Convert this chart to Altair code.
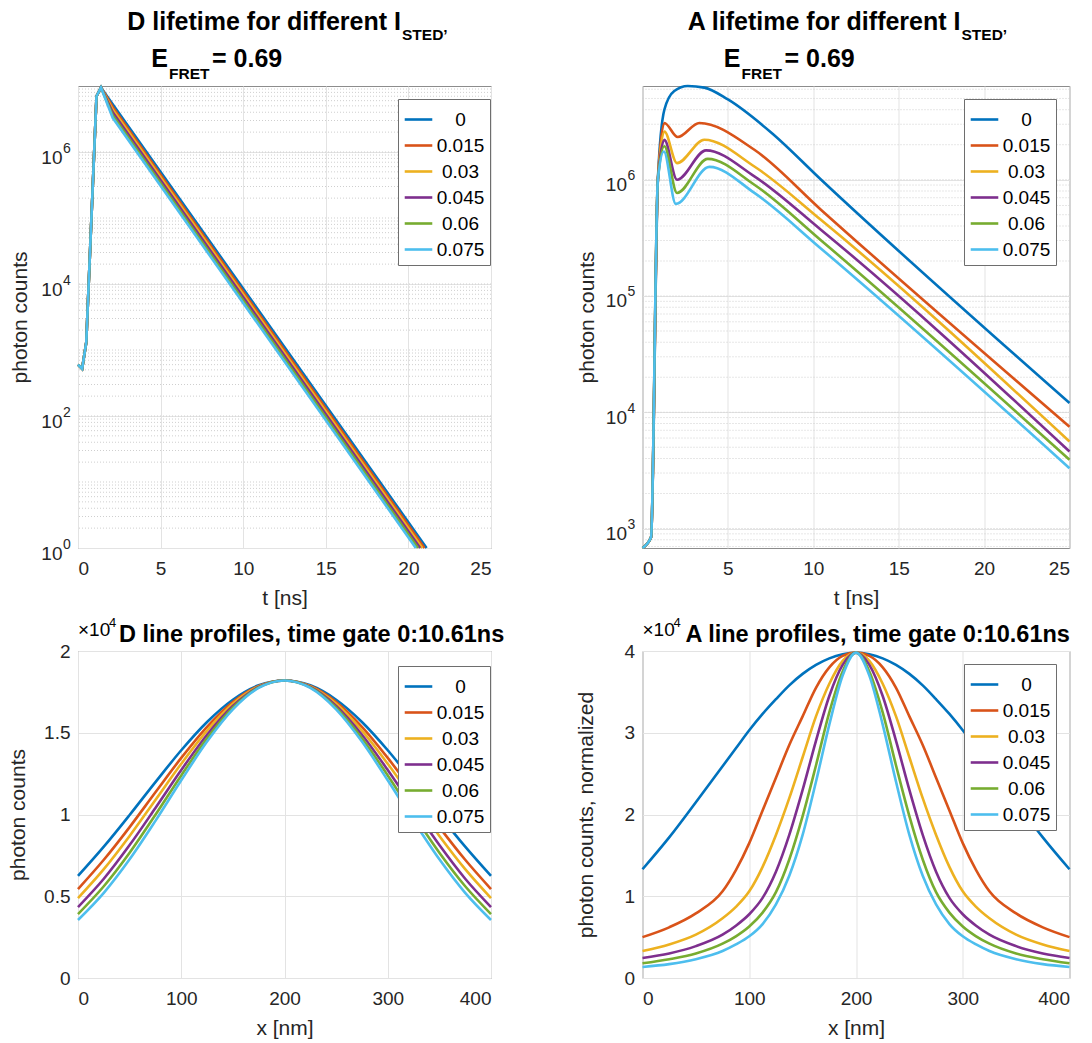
import altair as alt
import pandas as pd

FONT = "Liberation Sans"
SERIES = ["0", "0.015", "0.03", "0.045", "0.06", "0.075"]
COLORS = ["#0072BD", "#D95319", "#EDB120", "#7E2F8E", "#77AC30", "#4DBEEE"]

# ---------------- D lifetime (top-left), photon counts vs t [ns] ----------------
D_RISE_T = [0.0, 0.25, 0.5, 1.12, 1.39]
D_RISE_V = [600, 520, 1300, 7.0e6, 9.5e6]
D_KNEE_T = 2.1
D_KNEE_V = [5.3e6, 4.8e6, 4.4e6, 4.0e6, 3.6e6, 3.3e6]
D_END_T = [21.1, 20.97, 20.84, 20.71, 20.58, 20.45]
D_END_V = 1.0

# ---------------- A lifetime (top-right) ----------------
A_RISE_T = [0.0, 0.5, 0.9]
A_RISE_V = [680, 840, 1.0e6]
A_T = {
    "0":     [1.28, 1.86, 2.65, 3.62, 5.0, 7.53, 10.46, 25.0],
    "0.015": [1.28, 2.06, 3.33, 6.55, 10.46, 25.0],
    "0.03":  [1.28, 2.02, 3.62, 6.55, 10.46, 25.0],
    "0.045": [1.28, 2.02, 3.72, 6.55, 10.46, 25.0],
    "0.06":  [1.28, 2.02, 3.82, 6.55, 10.46, 25.0],
    "0.075": [1.25, 1.95, 3.92, 6.55, 10.46, 25.0],
}
A_V = {
    "0":     [4.0e6, 5.8e6, 6.4e6, 6.2e6, 4.9e6, 2.55e6, 1.0e6, 1.2e4],
    "0.015": [3.08e6, 2.33e6, 3.08e6, 1.81e6, 5.5e5, 7.5e3],
    "0.03":  [2.6e6, 1.39e6, 2.21e6, 1.3e6, 4.5e5, 5.6e3],
    "0.045": [2.2e6, 1.0e6, 1.79e6, 1.07e6, 3.7e5, 4.6e3],
    "0.06":  [1.94e6, 7.7e5, 1.51e6, 9.05e5, 3.0e5, 3.9e3],
    "0.075": [1.75e6, 6.2e5, 1.29e6, 7.7e5, 2.55e5, 3.3e3],
}

# ---------------- D line profiles (bottom-left), units of 1e4 counts ----------------
X_D = [0, 25, 50, 75, 100, 125, 150, 175, 200, 225, 250, 275, 300, 325, 350, 375, 400]
D_PROF = {
    "0":     [0.624, 0.803, 0.997, 1.198, 1.393, 1.566, 1.702, 1.790, 1.820, 1.790, 1.702, 1.566, 1.393, 1.198, 0.997, 0.803, 0.624],
    "0.015": [0.544, 0.723, 0.923, 1.136, 1.346, 1.536, 1.688, 1.786, 1.820, 1.786, 1.688, 1.536, 1.346, 1.136, 0.923, 0.723, 0.544],
    "0.03":  [0.489, 0.666, 0.869, 1.089, 1.310, 1.513, 1.677, 1.783, 1.820, 1.783, 1.677, 1.513, 1.310, 1.089, 0.869, 0.666, 0.489],
    "0.045": [0.434, 0.607, 0.813, 1.040, 1.272, 1.488, 1.664, 1.780, 1.820, 1.780, 1.664, 1.488, 1.272, 1.040, 0.813, 0.607, 0.434],
    "0.06":  [0.391, 0.561, 0.766, 0.998, 1.239, 1.466, 1.653, 1.777, 1.820, 1.777, 1.653, 1.466, 1.239, 0.998, 0.766, 0.561, 0.391],
    "0.075": [0.355, 0.521, 0.726, 0.961, 1.209, 1.446, 1.643, 1.774, 1.820, 1.774, 1.643, 1.446, 1.209, 0.961, 0.726, 0.521, 0.355],
}

# ---------------- A line profiles (bottom-right), units of 1e4 counts ----------------
X_A = [0, 25, 50, 75, 87.5, 100, 112.5, 125, 137.5, 150, 162.5, 175, 187.5, 200,
       212.5, 225, 237.5, 250, 262.5, 275, 287.5, 300, 312.5, 325, 350, 375, 400]
A_PROF = {
    "0":     [1.33, 1.72, 2.15, 2.59, 2.81, 3.03, 3.23, 3.41, 3.58, 3.72, 3.83, 3.91, 3.96, 3.98,
              3.96, 3.91, 3.83, 3.72, 3.58, 3.41, 3.23, 3.03, 2.81, 2.59, 2.15, 1.72, 1.33],
    "0.015": [0.50, 0.62, 0.79, 1.06, 1.32, 1.65, 2.05, 2.45, 2.85, 3.20, 3.55, 3.80, 3.94, 3.98,
              3.94, 3.80, 3.55, 3.20, 2.85, 2.45, 2.05, 1.65, 1.32, 1.06, 0.79, 0.62, 0.50],
    "0.03":  [0.33, 0.41, 0.53, 0.73, 0.87, 1.06, 1.36, 1.75, 2.20, 2.70, 3.20, 3.60, 3.88, 3.98,
              3.88, 3.60, 3.20, 2.70, 2.20, 1.75, 1.36, 1.06, 0.87, 0.73, 0.53, 0.41, 0.33],
    "0.045": [0.245, 0.30, 0.39, 0.53, 0.64, 0.78, 0.98, 1.30, 1.75, 2.30, 2.90, 3.45, 3.83, 3.98,
              3.83, 3.45, 2.90, 2.30, 1.75, 1.30, 0.98, 0.78, 0.64, 0.53, 0.39, 0.30, 0.245],
    "0.06":  [0.18, 0.23, 0.30, 0.42, 0.51, 0.63, 0.80, 1.05, 1.45, 1.98, 2.60, 3.25, 3.75, 3.98,
              3.75, 3.25, 2.60, 1.98, 1.45, 1.05, 0.80, 0.63, 0.51, 0.42, 0.30, 0.23, 0.18],
    "0.075": [0.135, 0.17, 0.23, 0.33, 0.41, 0.51, 0.66, 0.90, 1.25, 1.75, 2.40, 3.10, 3.70, 3.98,
              3.70, 3.10, 2.40, 1.75, 1.25, 0.90, 0.66, 0.51, 0.41, 0.33, 0.23, 0.17, 0.135],
}

# ---------------- build tables ----------------
rows = []
for i, s in enumerate(SERIES):
    for t, v in zip(D_RISE_T + [D_KNEE_T, D_END_T[i]], D_RISE_V + [D_KNEE_V[i], D_END_V]):
        rows.append({"series": s, "k": i, "x": t, "v": v})
df_dl = pd.DataFrame(rows)

rows = []
for i, s in enumerate(SERIES):
    for t, v in zip(A_RISE_T + A_T[s], A_RISE_V + A_V[s]):
        rows.append({"series": s, "k": i, "x": t, "v": v})
df_al = pd.DataFrame(rows)

df_dp = pd.DataFrame([{"series": s, "k": i, "x": x, "v": v}
                      for i, s in enumerate(SERIES) for x, v in zip(X_D, D_PROF[s])])
df_ap = pd.DataFrame([{"series": s, "k": i, "x": x, "v": v}
                      for i, s in enumerate(SERIES) for x, v in zip(X_A, A_PROF[s])])

ONE = pd.DataFrame({"a": [0]})
EXP_LABEL = "'' + round(log(datum.value) / LN10)"


def minor_values(lo, hi):
    out = []
    for e in range(-1, 9):
        for m in range(1, 10):
            val = m * 10 ** e
            if lo < val < hi:
                out.append(val)
    return out


def txt(s, x, y, size, align="left", weight="bold"):
    return alt.Chart(ONE).mark_text(
        text=s, align=align, baseline="alphabetic", fontSize=size,
        fontWeight=weight, font=FONT, color="#000000"
    ).encode(x=alt.value(x), y=alt.value(y))


def legend(lx, ly):
    return alt.Legend(
        title=None, orient="none", legendX=lx, legendY=ly,
        fillColor="white", strokeColor="#6e6e6e", padding=5, cornerRadius=0,
        symbolType="stroke", symbolSize=760, symbolStrokeWidth=2.6,
        labelFontSize=19, labelFont=FONT, labelColor="#000000",
        labelAlign="center", labelOffset=26.5, rowPadding=0,
    )


def panel(df, w, h, xdom, xvals, xtitle, ydom, yvals, ytitle, ytitleX, log, interp,
          lx, ly, texts):
    xscale = alt.Scale(domain=xdom, nice=False)
    xaxis = alt.Axis(values=xvals, title=xtitle, grid=True, labelPadding=11,
                     titleY=56, titleBaseline="alphabetic", labelExpr="'' + datum.value")
    if log:
        yscale = alt.Scale(type="log", domain=ydom, nice=False)
        yaxis = alt.Axis(orient="left", values=yvals, labelExpr="'10'", title=ytitle,
                         grid=True, titleX=ytitleX, titleY=h / 2, titleAngle=270,
                         titleBaseline="alphabetic", titleAlign="center",
                         labelPadding=16, labelOffset=5)
        exp_axis = alt.Axis(orient="left", values=yvals, labelExpr=EXP_LABEL, title=None,
                            grid=False, labelAlign="left", labelPadding=15.5,
                            labelFontSize=14, labelOffset=-4)
    else:
        yscale = alt.Scale(domain=ydom, nice=False)
        yaxis = alt.Axis(values=yvals, labelExpr="'' + datum.value", title=ytitle, grid=True,
                         titleX=ytitleX, titleY=h / 2, titleAngle=270,
                         titleBaseline="alphabetic", titleAlign="center", labelPadding=8)
    lines = alt.Chart(df).mark_line(strokeWidth=2.6, interpolate=interp).encode(
        x=alt.X("x:Q", scale=xscale, axis=xaxis),
        y=alt.Y("v:Q", scale=yscale, axis=yaxis),
        color=alt.Color("series:N", scale=alt.Scale(domain=SERIES, range=COLORS),
                        legend=legend(lx, ly)),
        order=alt.Order("k:Q"),
    )
    layers = []
    if log:
        mdf = pd.DataFrame({"v": minor_values(ydom[0], ydom[1])})
        layers.append(alt.Chart(mdf).mark_rule(color="#cfcfcf", strokeWidth=1,
                                               strokeDash=[1, 2]).encode(
            y=alt.Y("v:Q", scale=yscale, axis=exp_axis)))
    layers.append(lines)
    layers.extend(texts)
    out = alt.layer(*layers).properties(width=w, height=h)
    if log:
        out = out.resolve_axis(y="independent")
    return out


WL, WR, HT, HB = 413, 427, 462, 327

anchor = alt.Chart(ONE).mark_rule(opacity=0, strokeWidth=1).encode(
    x=alt.value(-76.8), y=alt.value(-85), y2=alt.value(-84))

tl = panel(df_dl, WL, HT, [0, 25], [0, 5, 10, 15, 20, 25], "t [ns]",
           [1, 1e7], [1, 100, 1e4, 1e6], "photon counts", -52, True, "linear",
           320, 13,
           [txt("D lifetime for different I", 323, -56, 25, align="right"),
            txt("STED’", 324, -46, 15.5),
            txt("E", 90, -19, 25, align="right"),
            txt("FRET", 91, -7, 15.5),
            txt("= 0.69", 134, -19, 25),
            anchor])

a_min = min(min(A_RISE_V), min(min(v) for v in A_V.values()))
a_max = max(max(v) for v in A_V.values())
tr = panel(df_al, WR, HT, [0, 25], [0, 5, 10, 15, 20, 25], "t [ns]",
           [a_min, a_max], [1e3, 1e4, 1e5, 1e6], "photon counts", -49, True, "monotone",
           321.5, 13,
           [txt("A lifetime for different I", 318, -56, 25, align="right"),
            txt("STED’", 319, -46, 15.5),
            txt("E", 98, -19, 25, align="right"),
            txt("FRET", 99, -7, 15.5),
            txt("= 0.69", 142, -19, 25)])

bl = panel(df_dp, WL, HB, [0, 400], [0, 100, 200, 300, 400], "x [nm]",
           [0, 2], [0, 0.5, 1, 1.5, 2], "photon counts", -54, False, "monotone",
           320, 15,
           [txt("×10", 0, -15, 19, weight="normal"),
            txt("4", 31, -24, 13, weight="normal"),
            txt("D line profiles, time gate 0:10.61ns", 41, -9, 23.5)])

br = panel(df_ap, WR, HB, [0, 400], [0, 100, 200, 300, 400], "x [nm]",
           [0, 4], [0, 1, 2, 3, 4], "photon counts, normalized", -50, False, "monotone",
           321.5, 13,
           [txt("×10", 0, -15, 19, weight="normal"),
            txt("4", 31, -24, 13, weight="normal"),
            txt("A line profiles, time gate 0:10.61ns", 43, -9, 23.5)])

chart = alt.concat(
    tl, tr, bl, br, columns=2, bounds="flush",
    spacing={"row": 103, "column": 151.5},
).resolve_scale(color="independent").properties(padding=0).configure_view(
    stroke="#8c8c8c", strokeWidth=1
).configure_axis(
    labelFont=FONT, titleFont=FONT, labelFontSize=19, titleFontSize=21,
    labelColor="#262626", titleColor="#262626", titleFontWeight="normal",
    domain=False, ticks=False, gridColor="#e3e3e3", gridWidth=1,
)

chart.save("out.html", embed_options={"renderer": "svg", "actions": False})
